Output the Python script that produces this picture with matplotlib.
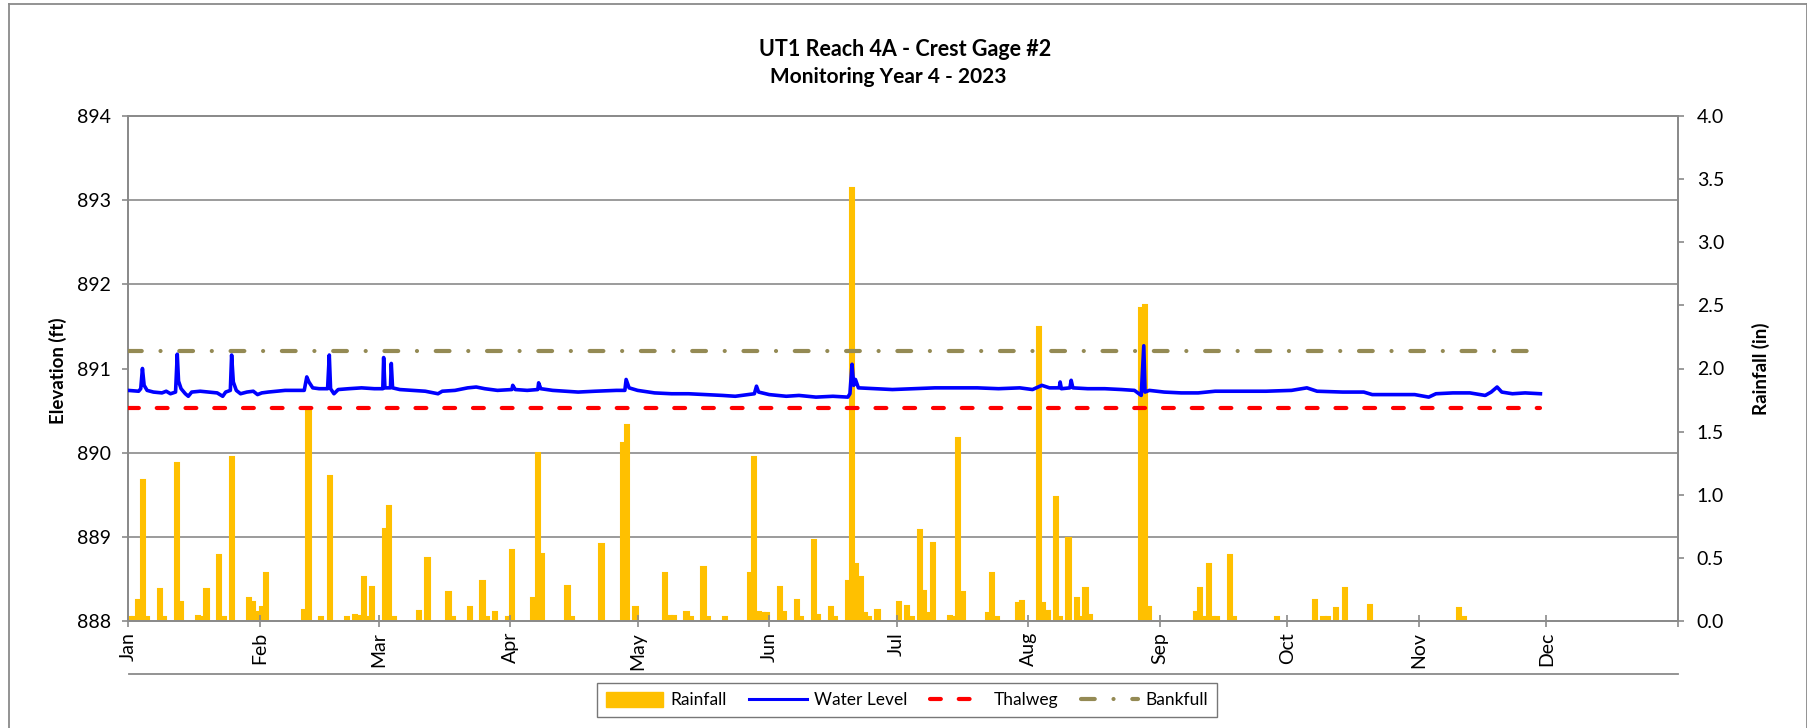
"""UT1 Reach 4A crest gage: water level, rainfall and reference elevations."""

import matplotlib.dates as mdates
import matplotlib.pyplot as plt
import numpy as np
import pandas as pd
from matplotlib.lines import Line2D
from matplotlib.patches import Patch
from matplotlib.ticker import FixedLocator, FuncFormatter

plt.rcParams["font.family"] = ["Lato", "DejaVu Sans"]

YEAR_START = pd.Timestamp("2023-01-01")
YEAR_END = pd.Timestamp("2024-01-01")

# water level (ft), days since Jan 1 2023
wl_day = [
    0, 2.5, 3.0, 3.4, 3.8, 4.5, 6, 8, 9, 10, 11.2, 11.6, 11.9, 12.5, 13.5, 14.2,
    15, 17, 19, 21, 22.3, 23, 24.1, 24.4, 24.8, 25.5, 26.5, 28, 29.5, 30.5, 31.5,
    33, 35, 37, 39, 41.5, 42.1, 42.6, 43.5, 45, 47.0, 47.4, 47.7, 48.5, 49.5, 52,
    55, 58, 60.0, 60.2, 60.5, 61.8, 62.0, 62.3, 64, 67, 70, 73, 74, 77, 80, 82,
    84, 87, 90.4, 90.6, 91.2, 94, 96.5, 96.7, 97.2, 100, 103, 106, 110, 115,
    117.0, 117.3, 118, 120, 124, 128, 132, 136, 140, 143, 147.5, 148.0, 148.5,
    151, 155, 158, 162, 166, 169.5, 170.0, 170.5, 170.9, 171.3, 172, 176, 180,
    185, 190, 195, 200, 205, 210, 213, 215.2, 217, 219.3, 219.5, 219.8, 221.8,
    222.1, 222.5, 226, 230, 234, 237, 238.6, 239.2, 239.5, 240.5, 244, 248, 252,
    256, 262, 268, 274, 277.6, 280, 286, 291, 293, 298, 303, 306.3, 308, 312,
    316, 319.6, 321, 322.4, 323.5, 326, 329, 332.6,
]
wl_elev = [
    890.74, 890.73, 890.76, 891.00, 890.80, 890.74, 890.72, 890.71, 890.73,
    890.70, 890.72, 891.17, 890.85, 890.76, 890.70, 890.67, 890.72, 890.73,
    890.72, 890.71, 890.67, 890.72, 890.74, 891.16, 890.84, 890.74, 890.70,
    890.72, 890.73, 890.69, 890.71, 890.72, 890.73, 890.74, 890.74, 890.74,
    890.90, 890.84, 890.77, 890.76, 890.76, 891.16, 890.76, 890.70, 890.75,
    890.76, 890.77, 890.76, 890.76, 891.13, 890.77, 890.77, 891.06, 890.77,
    890.75, 890.74, 890.73, 890.70, 890.73, 890.74, 890.77, 890.78, 890.76,
    890.74, 890.75, 890.80, 890.75, 890.74, 890.75, 890.83, 890.76, 890.74,
    890.73, 890.72, 890.73, 890.74, 890.74, 890.87, 890.77, 890.74, 890.71,
    890.70, 890.70, 890.69, 890.68, 890.67, 890.70, 890.79, 890.72, 890.69,
    890.67, 890.68, 890.66, 890.67, 890.66, 890.70, 891.05, 890.80, 890.87,
    890.77, 890.76, 890.75, 890.76, 890.77, 890.77, 890.77, 890.76, 890.77,
    890.75, 890.80, 890.77, 890.77, 890.84, 890.76, 890.77, 890.86, 890.77,
    890.76, 890.76, 890.75, 890.74, 890.68, 891.27, 890.72, 890.74, 890.72,
    890.71, 890.71, 890.73, 890.73, 890.73, 890.74, 890.77, 890.73, 890.72,
    890.72, 890.69, 890.69, 890.69, 890.66, 890.70, 890.71, 890.71, 890.68,
    890.72, 890.78, 890.72, 890.70, 890.71, 890.70,
]

# daily rainfall (in), days since Jan 1 2023
rain_day = [
    0, 1, 2, 3, 4, 7, 8, 11, 12, 16, 17, 18, 21, 22, 24, 28, 29, 30, 31, 32,
    41, 42, 45, 47, 51, 53, 54, 55, 56, 57, 60, 61, 62, 68, 70, 75, 76, 80, 83,
    84, 86, 89, 90, 95, 96, 97, 103, 104, 111, 116, 117, 119, 126, 127, 128,
    131, 132, 135, 136, 140, 146, 147, 148, 149, 150, 153, 154, 157, 158, 161,
    162, 165, 166, 169, 170, 171, 172, 173, 174, 176, 181, 183, 184, 186, 187,
    188, 189, 193, 194, 195, 196, 202, 203, 204, 209, 210, 214, 215, 216, 218,
    219, 221, 223, 224, 225, 226, 238, 239, 240, 251, 252, 253, 254, 255, 256,
    259, 260, 270, 279, 281, 282, 284, 286, 292, 313, 314,
]
rain_in = [
    0.03, 0.03, 0.17, 1.12, 0.03, 0.25, 0.03, 1.25, 0.15, 0.04, 0.03, 0.25,
    0.52, 0.03, 1.30, 0.18, 0.15, 0.07, 0.11, 0.38, 0.09, 1.67, 0.03, 1.15,
    0.03, 0.05, 0.04, 0.35, 0.03, 0.27, 0.73, 0.91, 0.03, 0.08, 0.50, 0.23,
    0.03, 0.11, 0.32, 0.03, 0.07, 0.03, 0.56, 0.18, 1.33, 0.53, 0.28, 0.03,
    0.61, 1.41, 1.55, 0.11, 0.38, 0.04, 0.04, 0.07, 0.03, 0.43, 0.03, 0.03,
    0.38, 1.30, 0.07, 0.06, 0.06, 0.27, 0.07, 0.17, 0.03, 0.64, 0.05, 0.11,
    0.03, 0.32, 3.43, 0.45, 0.35, 0.06, 0.03, 0.09, 0.15, 0.12, 0.03, 0.72,
    0.24, 0.06, 0.62, 0.04, 0.03, 1.45, 0.23, 0.06, 0.38, 0.03, 0.14, 0.16,
    2.33, 0.14, 0.08, 0.98, 0.03, 0.66, 0.18, 0.03, 0.26, 0.05, 2.48, 2.50,
    0.11, 0.07, 0.26, 0.03, 0.45, 0.03, 0.03, 0.52, 0.03, 0.03, 0.17, 0.03,
    0.03, 0.10, 0.26, 0.13, 0.10, 0.03,
]

THALWEG = 890.53
BANKFULL = 891.21

ELEV_LIM = (888, 894)
RAIN_LIM = (0, 4.0)

GRAY = "#8a8a8a"
C_RAIN = "#FFC000"
C_WATER = "#0000FF"
C_THALWEG = "#FF0000"
C_BANKFULL = "#948A54"

W, H = 1808, 728


def fx(px):
    return px / W


def fy(px):
    return 1 - px / H


wl_dates = YEAR_START + pd.to_timedelta(wl_day, unit="D")
rain_dates = YEAR_START + pd.to_timedelta(rain_day, unit="D")
ref_span = [wl_dates[0], wl_dates[-1]]

fig = plt.figure(figsize=(W / 100, H / 100), dpi=100)
ax = fig.add_axes([fx(128), fy(621), fx(1678) - fx(128), fy(116) - fy(621)])
ax_rain = ax.twinx()
ax_rain.set_zorder(1)
ax.set_zorder(2)
ax.patch.set_visible(False)
ax_rain.patch.set_visible(True)
ax_rain.patch.set_facecolor("white")

# rainfall bars, behind the lines
ax_rain.bar(rain_dates, rain_in, width=1.0, align="edge", color=C_RAIN,
            edgecolor=C_RAIN, linewidth=1.5, zorder=2)
ax_rain.set_ylim(*RAIN_LIM)
ax_rain.set_yticks(np.arange(0, 4.01, 0.5))
ax_rain.yaxis.set_major_formatter(FuncFormatter(lambda v, _: f"{v:.1f}"))
# horizontal grid follows the elevation ticks
ax_rain.yaxis.set_minor_locator(FixedLocator(np.linspace(*RAIN_LIM, 7)))
ax_rain.grid(axis="y", which="minor", color=GRAY, linewidth=1.2)
ax_rain.set_axisbelow(True)
ax_rain.tick_params(axis="y", which="minor", length=0)

ax.plot(wl_dates, wl_elev, color=C_WATER, linewidth=2.6, zorder=3)
ax.plot(ref_span, [THALWEG, THALWEG], color=C_THALWEG, linewidth=3,
        linestyle=(0, (2.6, 4.3)), dash_capstyle="round", zorder=4)
ax.plot(ref_span, [BANKFULL, BANKFULL], color=C_BANKFULL, linewidth=3,
        linestyle=(0, (3.3, 4.5, 0.01, 4.5)), dash_capstyle="round", zorder=4)
ax.set_ylim(*ELEV_LIM)
ax.set_yticks(np.arange(888, 895, 1))
ax.set_xlim(YEAR_START, YEAR_END)

ax.xaxis.set_major_locator(mdates.MonthLocator())
ax.xaxis.set_major_formatter(
    FuncFormatter(lambda v, _: "" if mdates.num2date(v).year > 2023
                  else mdates.num2date(v).strftime("%b")))

for a in (ax, ax_rain):
    for sp in a.spines.values():
        sp.set_color(GRAY)
        sp.set_linewidth(1.3)

ax.tick_params(axis="y", direction="out", length=4.5, width=1.2, color=GRAY,
               labelsize=14, pad=8)
ax_rain.tick_params(axis="y", which="major", direction="out", length=4.5,
                    width=1.2, color=GRAY, labelsize=14, pad=9)
ax.tick_params(axis="x", direction="inout", length=8, width=1.2, color=GRAY,
               labelsize=14, labelrotation=90, pad=4)

fig.text(fx(58), fy(371), "Elevation (ft)", rotation=90, ha="center",
         va="center", fontsize=13.5, fontweight="bold")
fig.text(fx(1761), fy(369), "Rainfall (in)", rotation=90, ha="center",
         va="center", fontsize=13.5, fontweight="bold")

fig.text(fx(905), fy(50), "UT1 Reach 4A - Crest Gage #2", ha="center",
         va="center", fontsize=15.5, fontweight="bold")
fig.text(fx(888), fy(77), "Monitoring Year 4 - 2023", ha="center",
         va="center", fontsize=15, fontweight="bold")

handles = [
    Patch(facecolor=C_RAIN, edgecolor=C_RAIN),
    Line2D([], [], color=C_WATER, linewidth=2.2),
    Line2D([], [], color=C_THALWEG, linewidth=3, linestyle=(0, (2.6, 4.3)),
           dash_capstyle="round"),
    Line2D([], [], color=C_BANKFULL, linewidth=3,
           linestyle=(0, (3.3, 4.5, 0.01, 4.5)), dash_capstyle="round"),
]
leg = fig.legend(handles, ["Rainfall", "Water Level", "Thalweg", "Bankfull"],
                 loc="center", bbox_to_anchor=(fx(907), fy(700)), ncol=4,
                 fontsize=12.5, frameon=True, fancybox=False,
                 handlelength=3.3, handleheight=1.0, columnspacing=1.3,
                 handletextpad=0.4, borderpad=0.5)
leg.get_frame().set_edgecolor("#555555")
leg.get_frame().set_linewidth(1.0)

# chart border and the line under the month labels
for xs, ys in [([9, 9], [4, H]), ([9, 1807], [4, 4]), ([1807, 1807], [4, H]),
               ([129, 1678], [674, 674])]:
    fig.add_artist(Line2D([fx(x) for x in xs], [fy(y) for y in ys],
                          color=GRAY, linewidth=1.3))

fig.savefig("out.png", dpi=100)
plt.close(fig)
